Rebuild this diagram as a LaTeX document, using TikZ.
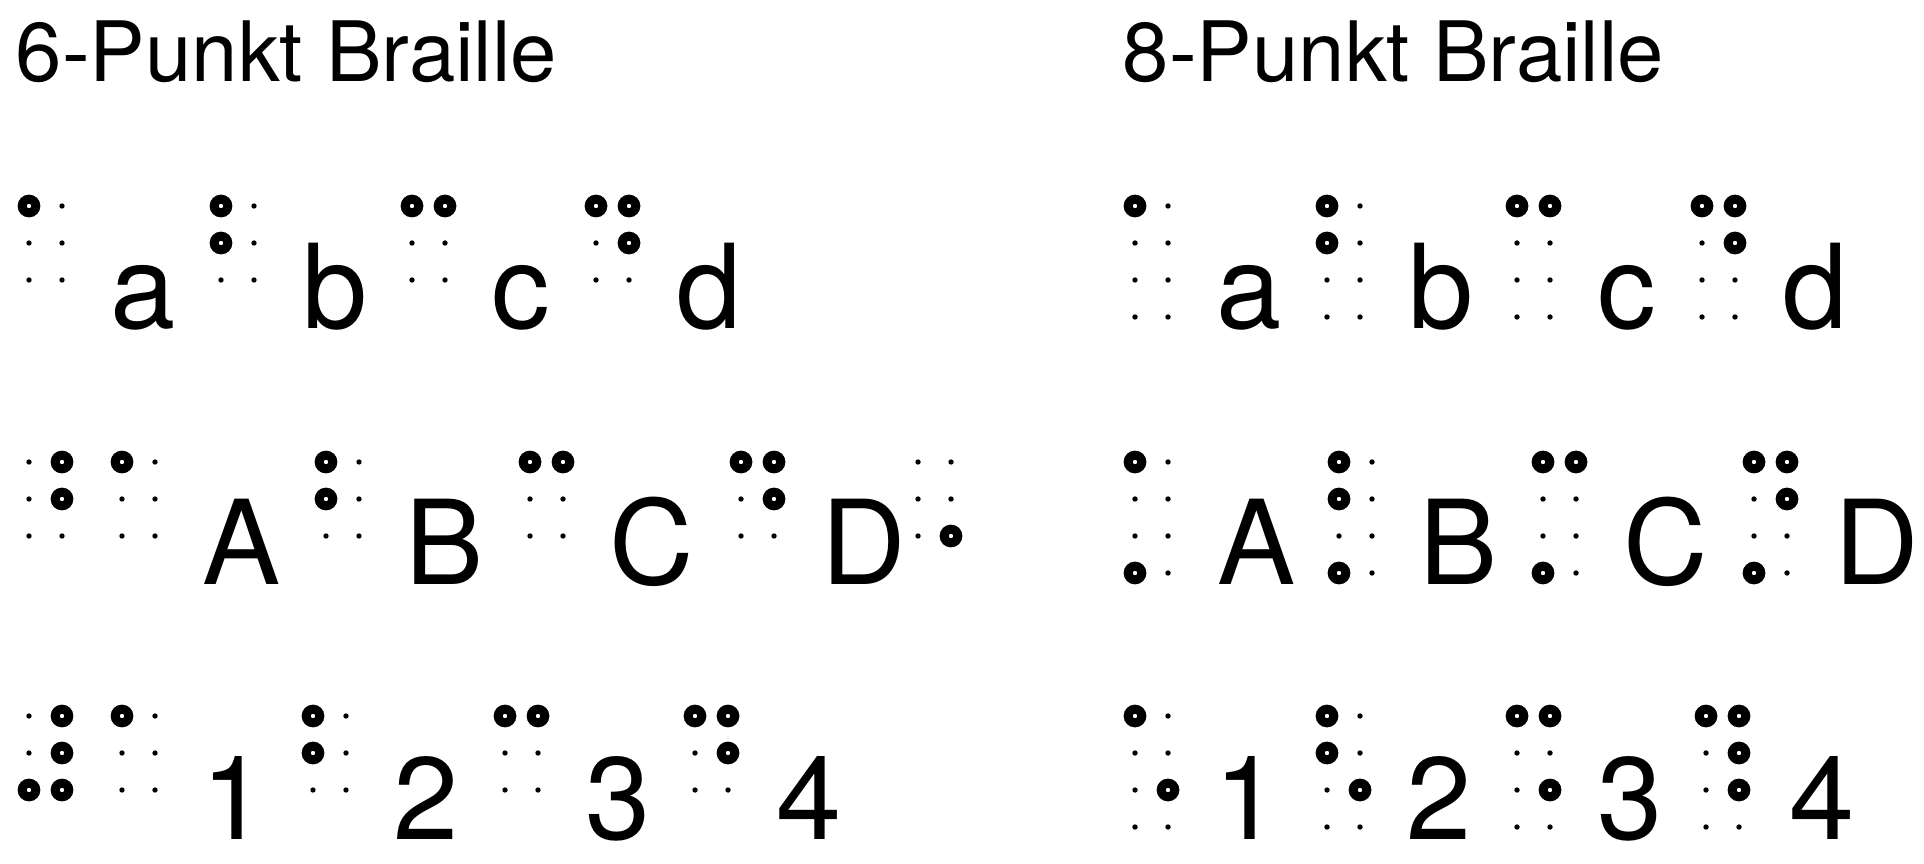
\documentclass[tikz,border=0pt]{standalone}
\usepackage{fontspec}
\setmainfont{TeX Gyre Heros}
\usepackage{tikz}

\newcommand{\zelle}[3]{%
  \begin{scope}[shift={(#1)}]
    \foreach \s in {0,33}
      \foreach \z in {1,...,#2}
        \fill (\s,\z*37-37) circle[radius=0.027cm];
    \coordinate (p1) at (0,0);   \coordinate (p4) at (33,0);
    \coordinate (p2) at (0,37);  \coordinate (p5) at (33,37);
    \coordinate (p3) at (0,74);  \coordinate (p6) at (33,74);
    \coordinate (p7) at (0,111); \coordinate (p8) at (33,111);
    \foreach \p in {#3} \draw[voll] (p\p) circle[radius=0.068cm];
  \end{scope}}

\begin{document}
\begin{tikzpicture}[
    x=0.01cm, y=-0.01cm,
    titel/.style={anchor=base west, inner sep=0, font=\fontsize{23.7}{28}\selectfont},
    zeichen/.style={anchor=base west, inner sep=0, font=\fontsize{33.3}{40}\selectfont},
    voll/.style={draw, fill=white, line width=0.09cm}
  ]
    \useasboundingbox (0,0) rectangle (1924,864);
    \node[titel] (titel6) at (15,82) {6-Punkt Braille};
    \node[titel] (titel8) at (1122,82) {8-Punkt Braille};

    \zelle{29,206}{3}{1}
    \zelle{221,206}{3}{1,2}
    \zelle{412,206}{3}{1,4}
    \zelle{596,206}{3}{1,4,5}
    \foreach \x/\t in {110/a, 302/b, 491/c, 676/d}
      \node[zeichen] (\t6) at (\x,329) {\t};

    \zelle{1135,206}{4}{1}
    \zelle{1327,206}{4}{1,2}
    \zelle{1517,206}{4}{1,4}
    \zelle{1702,206}{4}{1,4,5}
    \foreach \x/\t in {1216/a, 1408/b, 1597/c, 1782/d}
      \node[zeichen] (\t8) at (\x,329) {\t};

    \zelle{29,462}{3}{4,5}
    \zelle{122,462}{3}{1}
    \zelle{326,462}{3}{1,2}
    \zelle{530,462}{3}{1,4}
    \zelle{741,462}{3}{1,4,5}
    \zelle{918,462}{3}{6}
    \foreach \x/\t in {202/A, 405/B, 609/C, 821/D}
      \node[zeichen] (\t6) at (\x,584) {\t};

    \zelle{1135,462}{4}{1,7}
    \zelle{1339,462}{4}{1,2,7}
    \zelle{1543,462}{4}{1,4,7}
    \zelle{1754,462}{4}{1,4,5,7}
    \foreach \x/\t in {1217/A, 1419/B, 1623/C, 1834/D}
      \node[zeichen] (\t8) at (\x,584) {\t};

    \zelle{29,716}{3}{3,4,5,6}
    \zelle{122,716}{3}{1}
    \zelle{313,716}{3}{1,2}
    \zelle{505,716}{3}{1,4}
    \zelle{695,716}{3}{1,4,5}
    \foreach \x/\t/\n in {201/1/eins, 393/2/zwei, 585/3/drei, 776/4/vier}
      \node[zeichen] (\n6) at (\x,839) {\t};

    \zelle{1135,716}{4}{1,6}
    \zelle{1327,716}{4}{1,2,6}
    \zelle{1517,716}{4}{1,4,6}
    \zelle{1706,716}{4}{1,4,5,6}
    \foreach \x/\t/\n in {1214/1/eins, 1406/2/zwei, 1597/3/drei, 1789/4/vier}
      \node[zeichen] (\n8) at (\x,839) {\t};
\end{tikzpicture}
\end{document}
